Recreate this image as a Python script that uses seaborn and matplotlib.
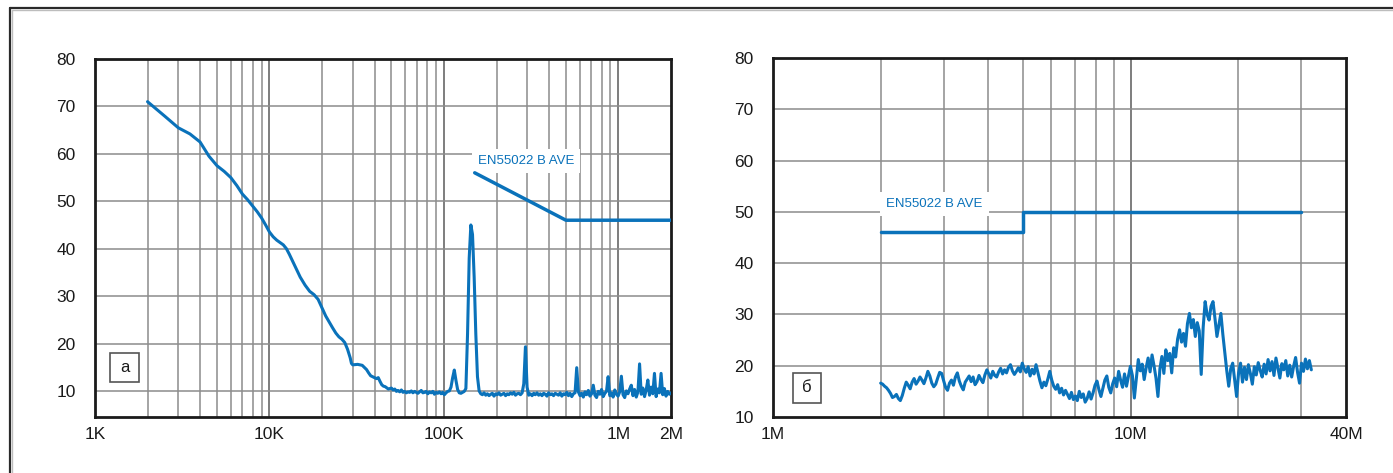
import numpy as np
import pandas as pd
import matplotlib
matplotlib.use("Agg")
import matplotlib.pyplot as plt
import matplotlib.ticker as mticker
from matplotlib.lines import Line2D
from matplotlib.patches import Rectangle
import seaborn as sns

# ---------------- data ----------------
# Panel a: conducted emission, 2 kHz .. 2 MHz (dBuV)
low_freq_khz = [2, 2.5, 3, 3.5, 4, 4.5, 5, 5.5, 6, 6.5, 7, 7.5, 8, 8.5, 9, 9.5,
                10, 10.5, 11, 12, 12.5, 13, 14, 15, 16, 17, 18, 19, 20, 21, 22,
                23, 24, 25, 26, 27, 28, 29, 29.5, 30, 32, 34, 36, 37, 38, 39,
                40, 41, 42, 43, 44, 45, 46, 48]
low_level = [71.0, 68.0, 65.5, 64.2, 62.5, 59.5, 57.5, 56.3, 55.0, 53.3, 51.5,
             50.3, 49.0, 47.8, 46.5, 45.0, 43.5, 42.5, 41.8, 40.8, 40.0, 38.8,
             36.3, 34.0, 32.3, 31.0, 30.3, 29.3, 27.5, 25.8, 24.5, 23.3, 22.2,
             21.4, 20.9, 20.2, 18.8, 17.0, 15.8, 15.5, 15.6, 15.4, 14.5, 13.8,
             13.2, 13.0, 12.8, 12.6, 12.8, 12.0, 11.3, 11.0, 10.9, 10.4]

# sweep 50 kHz .. 2 MHz, log-spaced steps
sweep_a_start, sweep_a_stop = 50e3, 2e6
sweep_a_level = [
    10.6, 10.2, 10.4, 9.9, 10.1, 9.8, 10.2, 9.7, 9.9, 9.6,
    9.8, 9.7, 10.0, 9.6, 9.9, 9.7, 9.5, 9.8, 10.1, 9.6,
    9.7, 9.9, 9.4, 9.8, 9.6, 9.9, 9.3, 9.7, 9.5, 9.8,
    9.4, 9.7, 9.2, 9.6, 9.9,
    10.0, 10.8, 12.8, 14.4, 12.2, 10.3, 9.6, 9.5, 9.7, 9.9,
    10.5, 22.0, 38.0, 45.0, 43.0, 34.0, 22.0, 13.0, 10.0,
    9.4, 9.2, 9.6, 9.1, 9.4, 9.0,
    9.3, 9.5, 8.9, 9.4, 9.2, 9.6, 9.1, 9.3, 9.5, 9.0,
    9.4, 9.2, 9.6, 9.3, 9.7, 9.1, 9.4, 9.5, 9.2, 9.6,
    11.5, 19.3, 10.8,
    9.1, 9.4, 9.0, 9.5, 9.2, 9.6, 9.1,
    9.4, 9.0, 9.5, 9.3, 8.9, 9.6, 9.2, 9.4, 9.0, 9.5,
    9.3, 9.1, 9.6, 8.9, 9.4, 9.2, 9.7, 9.0, 9.5, 8.8, 9.4,
    9.6, 14.9, 9.8,
    9.0, 9.5, 8.7, 9.8, 9.2, 10.1, 8.9, 9.4,
    11.2,
    9.1, 8.6, 9.9, 9.3, 10.3, 8.8, 9.5, 9.9,
    13.0,
    9.0, 9.6, 8.7, 10.2, 9.3, 8.9,
    9.8, 13.1,
    9.2, 8.6, 10.0, 9.4, 10.4,
    11.2,
    9.0, 10.3, 8.7, 9.8,
    15.7,
    9.3, 10.6, 8.8, 10.2,
    12.3,
    9.1, 10.8, 9.4,
    13.7,
    8.8, 10.4, 9.6,
    13.7,
    9.2, 10.5, 8.9, 9.9, 9.3, 9.6,
]

# Panel b: sweep 2 MHz .. 32 MHz, log-spaced steps
sweep_b_start, sweep_b_stop = 2e6, 32e6
sweep_b_level = [
    16.6, 16.4, 16.0, 15.7, 15.2, 14.6, 13.8, 14.0, 14.4, 13.6,
    13.2, 14.2, 15.6, 16.8, 16.2, 15.5, 16.8, 17.5, 16.4, 17.0,
    17.8, 17.2, 16.5, 17.6, 18.9, 18.0, 16.6, 15.9, 16.4, 17.6,
    18.7, 18.5, 17.1, 15.8, 15.2, 16.6, 17.2, 16.2, 17.8, 18.6,
    17.0, 16.0, 15.3, 16.8, 17.4, 18.0, 16.9, 17.8, 16.3, 16.9,
    18.1, 17.3, 16.7, 18.2, 19.2, 18.4, 17.6, 18.9, 18.1, 17.8,
    18.8, 19.5, 18.4, 19.2, 18.6, 19.7, 20.2, 19.0, 18.3, 18.9,
    19.6, 18.8, 20.5, 19.4, 18.7, 19.8, 18.0, 19.3, 18.4, 20.2,
    18.6, 17.0, 15.7, 16.8, 16.1, 17.4, 18.9, 17.2, 16.0, 15.4,
    16.3, 14.7, 15.6, 14.3, 15.2, 14.4, 13.6, 14.8, 13.4, 14.1,
    13.2, 15.0, 13.8, 14.5, 12.9, 13.6, 14.9, 13.5, 14.7, 16.2,
    17.0, 15.3, 14.0, 15.6, 17.2, 18.0, 15.8, 14.7, 16.5, 17.6,
    15.9, 18.9, 17.2, 15.8, 18.4, 16.0, 17.9, 19.9, 18.1, 13.7,
    17.5, 21.2, 19.0, 20.3, 17.3, 19.6, 21.5, 18.8, 22.1, 20.0,
    17.6, 14.0, 19.4, 21.8, 18.5, 23.1, 21.0, 22.4, 18.6, 23.5,
    21.7, 25.2, 27.0, 24.6, 26.3, 23.8, 28.2, 30.2, 27.4, 29.0,
    25.7, 28.4, 26.8, 18.3, 27.5, 32.5, 30.0, 28.9, 31.6, 32.5,
    29.2, 25.7, 28.0, 30.2, 26.1, 22.5, 19.0, 16.0, 19.4, 20.5,
    17.2, 14.0, 18.6, 20.5, 16.8, 19.7, 17.3, 20.2, 18.5, 16.4,
    19.8, 18.2, 20.6, 19.1, 17.8, 20.3, 18.4, 21.2, 19.0, 20.8,
    18.1, 21.5, 19.6, 17.6, 20.4, 19.2, 21.0, 18.0, 20.1, 17.8,
    19.9, 21.6, 18.7, 16.6, 20.5, 18.9, 21.3, 19.4, 21.0, 19.2,
]

# EN55022 class B average limit
limit_a_freq = [150e3, 500e3, 2e6]
limit_a_level = [56, 46, 46]
limit_b_freq = [2e6, 5e6, 5e6, 30e6]
limit_b_level = [46, 46, 50, 50]

limit_label = "EN55022 B AVE"
xticks_a = [1e3, 1e4, 1e5, 1e6, 2e6]
xlabels_a = ["1K", "10K", "100K", "1M", "2M"]
xticks_b = [1e6, 1e7, 4e7]
xlabels_b = ["1M", "10M", "40M"]
yticks = [10, 20, 30, 40, 50, 60, 70, 80]
panel_tags = ["а", "б"]

# ---------------- figure ----------------
sns.set_style("white")
plt.rcParams["font.family"] = ["Liberation Sans", "DejaVu Sans"]

BLUE = "#0a72ba"
GRID = "#8c8c8c"
GRID_MAJOR = "#5a5a5a"
TXT = "#1a1a1a"

W, H = 1393, 473
fig = plt.figure(figsize=(W / 100, H / 100), dpi=100)
fig.patch.set_facecolor("white")


def px_box(x0, y0, x1, y1):
    return [x0 / W, 1 - y1 / H, (x1 - x0) / W, (y1 - y0) / H]


ax_a = fig.add_axes(px_box(95, 59, 671, 417))
ax_b = fig.add_axes(px_box(773, 58, 1346, 417))

# assemble panel a spectrum
freq_a = np.concatenate([np.array(low_freq_khz) * 1e3,
                         np.geomspace(sweep_a_start, sweep_a_stop, len(sweep_a_level))])
level_a = np.concatenate([low_level, sweep_a_level])
df_a = pd.DataFrame({"f": freq_a, "dB": level_a})
freq_b = np.geomspace(sweep_b_start, sweep_b_stop, len(sweep_b_level))
df_b = pd.DataFrame({"f": freq_b, "dB": sweep_b_level})

df_la = pd.DataFrame({"f": limit_a_freq, "dB": limit_a_level})
df_lb = pd.DataFrame({"f": limit_b_freq, "dB": limit_b_level})


def style_axes(ax, xlim, ylim, xt, xl):
    ax.set_xscale("log")
    ax.set_xlim(*xlim)
    ax.set_ylim(*ylim)
    ax.set_xticks(xt)
    ax.set_xticklabels(xl)
    ax.xaxis.set_minor_locator(mticker.LogLocator(base=10, subs=np.arange(2, 10)))
    ax.xaxis.set_minor_formatter(mticker.NullFormatter())
    ax.set_yticks(yticks)
    ax.set_yticklabels([str(v) for v in yticks])
    ax.tick_params(axis="both", which="both", length=0)
    ax.tick_params(axis="x", pad=7, labelsize=12.5, colors=TXT)
    ax.tick_params(axis="y", pad=14, labelsize=12.5, colors=TXT)
    for lab in ax.get_yticklabels():
        lab.set_horizontalalignment("right")
    ax.grid(False)
    # vertical grid: every 1..9 per decade, decade lines darker
    lo, hi = np.log10(xlim[0]), np.log10(xlim[1])
    for dec in range(int(np.floor(lo)), int(np.ceil(hi)) + 1):
        for m in range(1, 10):
            v = m * 10.0 ** dec
            if xlim[0] < v < xlim[1] * 0.999:
                ax.axvline(v, color=GRID_MAJOR if m == 1 else GRID,
                           lw=1.1, zorder=0.5)
    for v in yticks:
        if ylim[0] < v < ylim[1]:
            ax.axhline(v, color=GRID, lw=1.1, zorder=0.5)
    for s in ax.spines.values():
        s.set_visible(True)
        s.set_color("#1a1a1a")
        s.set_linewidth(2.0)
    ax.set_xlabel("")
    ax.set_ylabel("")


for ax, df, dfl in ((ax_a, df_a, df_la), (ax_b, df_b, df_lb)):
    sns.lineplot(data=df, x="f", y="dB", ax=ax, color=BLUE, lw=2.2,
                 estimator=None, sort=False, zorder=3)
    sns.lineplot(data=dfl, x="f", y="dB", ax=ax, color=BLUE, lw=2.5,
                 estimator=None, sort=False, zorder=3)

style_axes(ax_a, (1e3, 2e6), (4.5, 80), xticks_a, xlabels_a)
style_axes(ax_b, (1e6, 4e7), (10, 80), xticks_b, xlabels_b)

# limit labels
box = dict(boxstyle="square,pad=0.45", fc="white", ec="none")
ax_a.text(296e3, 58.5, limit_label, color=BLUE, fontsize=9.5,
          ha="center", va="center", bbox=box, zorder=2)
ax_b.text(2.83e6, 51.6, limit_label, color=BLUE, fontsize=9.5,
          ha="center", va="center", bbox=box, zorder=2)

# panel tags in small boxes
for ax, tag, (x0, y0, w, h) in ((ax_a, panel_tags[0], (0.026, 0.098, 0.0503, 0.081)),
                                (ax_b, panel_tags[1], (0.0344, 0.040, 0.0494, 0.082))):
    ax.add_patch(Rectangle((x0, y0), w, h, transform=ax.transAxes,
                           fill=True, fc="white", ec="#555555", lw=1.2, zorder=4))
    ax.text(x0 + w / 2, y0 + h / 2, tag, transform=ax.transAxes,
            ha="center", va="center", fontsize=12, color=TXT, zorder=5)

# outer frame along top and left edges
fig.add_artist(Line2D([10 / W, 1], [1 - 8 / H, 1 - 8 / H], color="#2a2a2a", lw=1.6,
                      transform=fig.transFigure))
fig.add_artist(Line2D([10 / W, 10 / W], [0, 1 - 8 / H], color="#2a2a2a", lw=1.6,
                      transform=fig.transFigure))
fig.add_artist(Line2D([11.5 / W, 1], [1 - 10 / H, 1 - 10 / H], color="#bdbdbd", lw=1.0,
                      transform=fig.transFigure))
fig.add_artist(Line2D([12 / W, 12 / W], [0, 1 - 10 / H], color="#bdbdbd", lw=1.0,
                      transform=fig.transFigure))

fig.savefig("out.png", dpi=100, facecolor="white")
